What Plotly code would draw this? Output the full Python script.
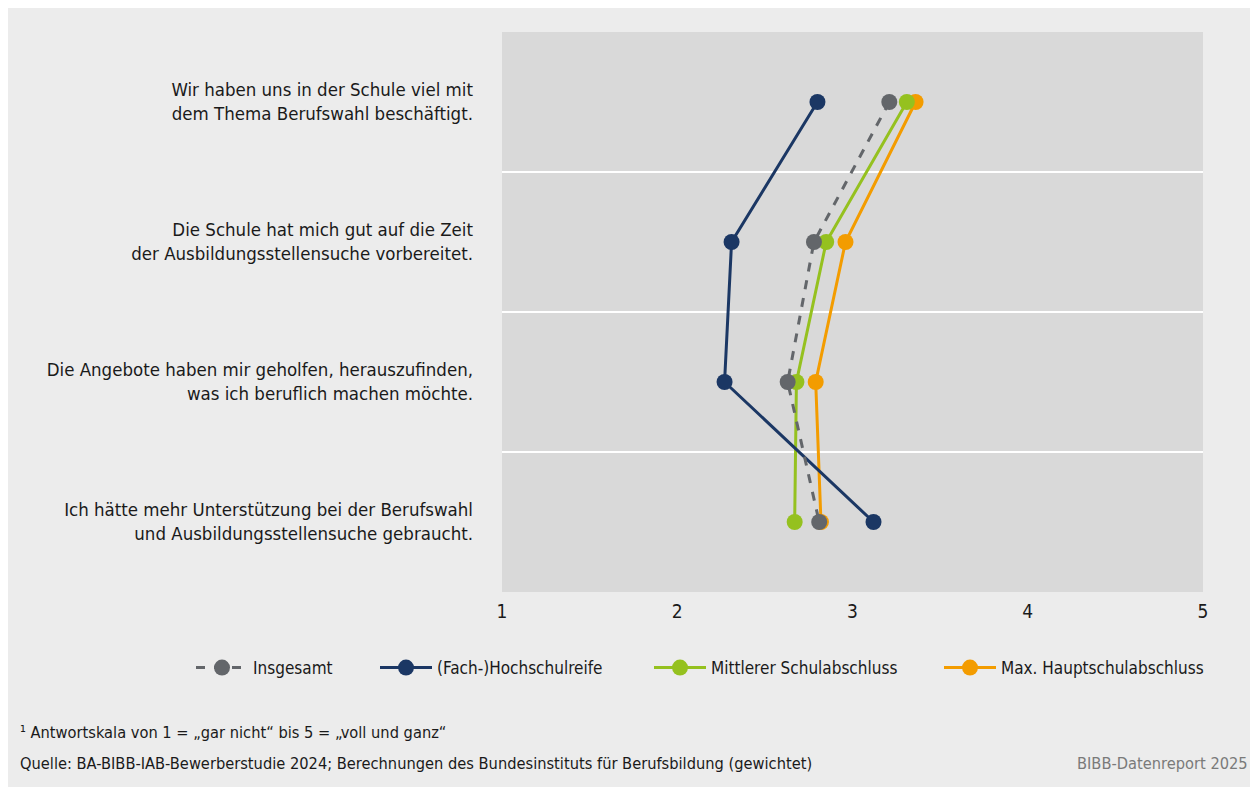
import plotly.graph_objects as go

categories = [
    "Wir haben uns in der Schule viel mit<br>dem Thema Berufswahl beschäftigt.",
    "Die Schule hat mich gut auf die Zeit<br>der Ausbildungsstellensuche vorbereitet.",
    "Die Angebote haben mir geholfen, herauszufinden,<br>was ich beruflich machen möchte.",
    "Ich hätte mehr Unterstützung bei der Berufswahl<br>und Ausbildungsstellensuche gebraucht.",
]
insgesamt = [3.21, 2.78, 2.63, 2.81]
hochschulreife = [2.80, 2.31, 2.27, 3.12]
mittlerer = [3.31, 2.85, 2.68, 2.67]
hauptschule = [3.36, 2.96, 2.79, 2.82]
x_ticks = [1, 2, 3, 4, 5]

FONT = "DejaVu Sans Condensed, Liberation Sans Narrow, Roboto Condensed, sans-serif"
W, H = 1258, 787
OFF = 8  # page body margin
L, R, T, B = 502 - OFF, 1258 - 1203 + OFF, 32 - OFF, 787 - 592 + OFF
PW, PH = 1203 - 502, 592 - 32

def px_x(px):
    return (px - 502) / PW

def px_y(py):
    return (592 - py) / PH

series = [
    ("Max. Hauptschulabschluss", hauptschule, "#f39c00", "solid", "legend4", 939),
    ("Mittlerer Schulabschluss", mittlerer, "#95c11f", "solid", "legend3", 649),
    ("(Fach-)Hochschulreife", hochschulreife, "#1b3764", "solid", "legend2", 375),
    ("Insgesamt", insgesamt, "#63666a", "dash", "legend", 191),
]

fig = go.Figure()
legends = {}
for name, vals, col, dash, leg, lx in series:
    fig.add_trace(go.Scatter(
        x=vals, y=categories, name=name, mode="lines+markers",
        line=dict(color=col, width=3, dash=dash),
        marker=dict(color=col, size=16),
        legend=leg,
    ))
    legends[leg] = dict(orientation="h", x=px_x(lx), y=px_y(668), xanchor="left",
                        yanchor="middle", font=dict(size=17, family=FONT, color="#1a1a1a"),
                        bgcolor="rgba(0,0,0,0)", itemwidth=52)

shapes = []
for i in range(len(categories) - 1):
    shapes.append(dict(type="line", xref="paper", yref="y", x0=0, x1=1,
                       y0=i + 0.5, y1=i + 0.5, line=dict(color="white", width=2),
                       layer="below"))

annotations = [
    dict(text="¹ Antwortskala von 1 = „gar nicht“ bis 5 = „voll und ganz“",
         xref="paper", yref="paper", x=px_x(18), y=px_y(732), xanchor="left", yanchor="middle",
         showarrow=False, font=dict(size=16.3, color="#1a1a1a", family=FONT)),
    dict(text="Quelle: BA-BIBB-IAB-Bewerberstudie 2024; Berechnungen des Bundesinstituts für Berufsbildung (gewichtet)",
         xref="paper", yref="paper", x=px_x(18), y=px_y(763), xanchor="left", yanchor="middle",
         showarrow=False, font=dict(size=16.3, color="#1a1a1a", family=FONT)),
    dict(text="BIBB-Datenreport 2025",
         xref="paper", yref="paper", x=px_x(1250), y=px_y(763), xanchor="right", yanchor="middle",
         showarrow=False, font=dict(size=16.3, color="#7a7a7a", family=FONT)),
]

fig.update_layout(
    width=W, height=H,
    margin=dict(l=L, r=R, t=T, b=B),
    paper_bgcolor="#ececec",
    plot_bgcolor="#d9d9d9",
    font=dict(family=FONT, size=18.5, color="#1a1a1a"),
    xaxis=dict(range=[1, 5], tickvals=x_ticks, showgrid=False, zeroline=False,
               showline=False, ticks="", ticklabelstandoff=6,
               tickfont=dict(size=19)),
    yaxis=dict(categoryorder="array", categoryarray=categories, range=[3.5, -0.5],
               showgrid=False, zeroline=False, showline=False, ticks="",
               ticklabelstandoff=28, tickfont=dict(size=18.5)),
    shapes=shapes,
    annotations=annotations,
    showlegend=True,
    **legends,
)

fig.write_html("out.html")
